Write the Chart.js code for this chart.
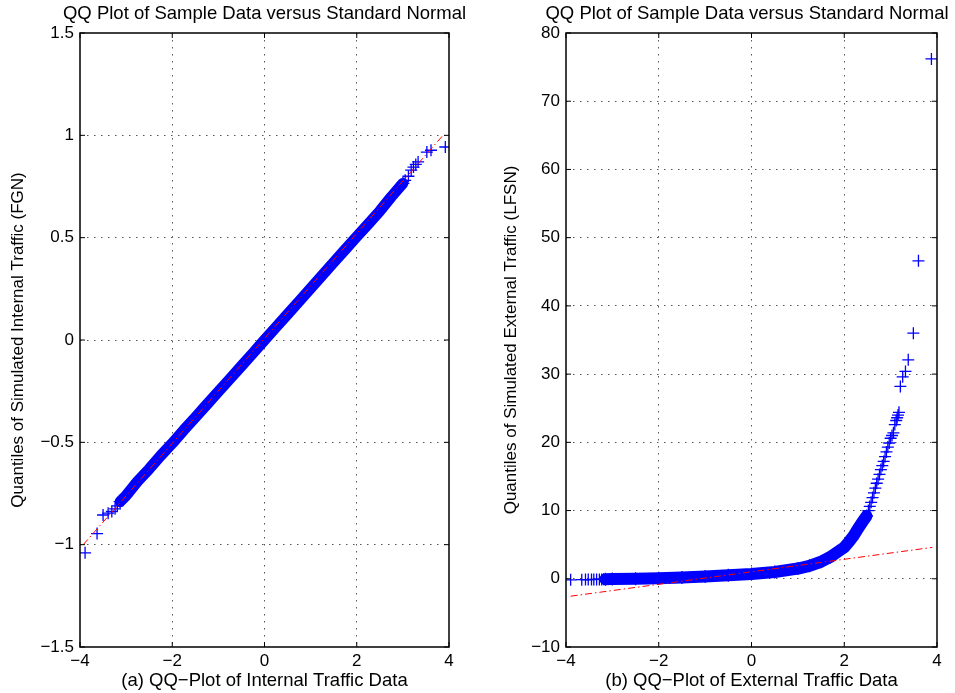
<!DOCTYPE html>
<html>
<head>
<meta charset="utf-8">
<script src="https://cdn.jsdelivr.net/npm/chart.js@4.4.1/dist/chart.umd.min.js"></script>
<style>
  html, body { margin: 0; padding: 0; background: #fff; overflow: hidden; width: 955px; height: 693px; }
  canvas { position: absolute; top: 0; }
  #left { left: 0; }
  #right { left: 480px; }
</style>
</head>
<body>
<canvas id="left" width="529" height="693"></canvas>
<canvas id="right" width="534" height="693"></canvas>
<script>
// ---- data ----
// (a) internal traffic
var internalBandX = [-3.13, -3.0, -2.75, -2.5, -2.25, -2.0, -1.75, -1.5, -1.25, -1.0, -0.75, -0.5, -0.25, 0, 0.25, 0.5, 0.75, 1.0, 1.25, 1.5, 1.75, 2.0, 2.25, 2.5, 2.75, 3.0];
var internalBandY = [-0.79, -0.76, -0.69, -0.63, -0.565, -0.505, -0.44, -0.378, -0.315, -0.252, -0.19, -0.127, -0.064, 0.0, 0.063, 0.126, 0.189, 0.252, 0.316, 0.379, 0.442, 0.505, 0.567, 0.63, 0.7, 0.765];
var internalTailX = [-3.89, -3.63, -3.50, -3.39, -3.31, -3.24, -3.19, 3.05, 3.12, 3.18, 3.23, 3.28, 3.33, 3.52, 3.61, 3.92];
var internalTailY = [-1.04, -0.946, -0.855, -0.846, -0.838, -0.825, -0.81, 0.78, 0.80, 0.83, 0.845, 0.858, 0.87, 0.918, 0.927, 0.943];
var internalRefX = [-3.93, 3.87];
var internalRefY = [-1.0, 1.0];

// (b) external traffic
var externalBandX = [-3.15, -3.0, -2.5, -2.0, -1.5, -1.0, -0.5, 0, 0.5, 1.0, 1.25, 1.5, 1.7, 1.85, 2.0, 2.1, 2.2, 2.3, 2.4, 2.48];
var externalBandY = [-0.07, -0.05, 0.0, 0.08, 0.2, 0.35, 0.5, 0.7, 1.0, 1.5, 1.9, 2.5, 3.2, 3.9, 4.6, 5.4, 6.3, 7.4, 8.4, 9.2];
var externalTailX = [-3.9, -3.66, -3.58, -3.52, -3.45, -3.40, -3.34, -3.28, -3.23, -3.19,
  2.52, 2.55, 2.58, 2.61, 2.64, 2.67, 2.70, 2.73, 2.76, 2.79, 2.82, 2.85, 2.88,
  2.91, 2.94, 2.97, 3.00, 3.03, 3.06, 3.09, 3.12, 3.14, 3.16, 3.18, 3.21, 3.26, 3.32, 3.38, 3.49, 3.60, 3.88];
var externalTailY = [-0.15, -0.13, -0.12, -0.12, -0.11, -0.1, -0.1, -0.09, -0.09, -0.08,
  10.0, 10.6, 11.2, 11.9, 12.6, 13.3, 14.0, 14.6, 15.3, 16.0, 16.6, 17.2, 17.9,
  18.6, 19.3, 19.9, 20.6, 21.0, 21.4, 22.6, 23.2, 23.6, 24.0, 24.4, 28.2, 29.6, 30.4, 32.1, 36.0, 46.6, 76.2];
var externalRefX = [-3.9, 3.9];
var externalRefY = [-2.55, 4.6];

// ticks
var xTicks = [-4, -2, 0, 2, 4];
var xTickLabels = ['\u22124', '\u22122', '0', '2', '4'];
var internalYTicks = [-1.5, -1, -0.5, 0, 0.5, 1, 1.5];
var internalYTickLabels = ['\u22121.5', '\u22121', '\u22120.5', '0', '0.5', '1', '1.5'];
var externalYTicks = [-10, 0, 10, 20, 30, 40, 50, 60, 70, 80];
var externalYTickLabels = ['\u221210', '0', '10', '20', '30', '40', '50', '60', '70', '80'];

var BLUE = '#0000ff';
var FONT = 'Liberation Sans, Arial, Helvetica, sans-serif';

function toPoints(xs, ys) {
  return xs.map(function (x, i) { return { x: x, y: ys[i] }; });
}

// box and inward tick marks like matlab
var framePlugin = {
  id: 'frame',
  afterDatasetsDraw: function (chart) {
    var ctx = chart.ctx, a = chart.chartArea;
    var sx = chart.scales.x, sy = chart.scales.y;
    ctx.save();
    ctx.strokeStyle = '#000';
    ctx.lineWidth = 1;
    ctx.beginPath();
    sx.ticks.forEach(function (t) {
      var px = sx.getPixelForValue(t.value);
      ctx.moveTo(px, a.bottom); ctx.lineTo(px, a.bottom - 5);
      ctx.moveTo(px, a.top); ctx.lineTo(px, a.top + 5);
    });
    sy.ticks.forEach(function (t) {
      var py = sy.getPixelForValue(t.value);
      ctx.moveTo(a.left, py); ctx.lineTo(a.left + 5, py);
      ctx.moveTo(a.right, py); ctx.lineTo(a.right - 5, py);
    });
    ctx.stroke();
    ctx.lineWidth = 1.5;
    ctx.strokeRect(a.left, a.top, a.right - a.left, a.bottom - a.top);
    ctx.restore();
  }
};

function makeChart(id, opt) {
  var gridColor = function (c) {
    var s = c.scale;
    if (c.tick && (c.tick.value === s.min || c.tick.value === s.max)) return 'rgba(0,0,0,0)';
    return '#555';
  };
  return new Chart(document.getElementById(id), {
    type: 'scatter',
    data: {
      datasets: [
        { // reference line (drawn on top)
          data: toPoints(opt.refX, opt.refY), showLine: true, borderColor: '#ff0000',
          borderWidth: 1, borderDash: [7, 3, 1.5, 3], pointRadius: 0
        },
        {
          data: toPoints(opt.tailX, opt.tailY), pointStyle: 'cross', pointRadius: 6,
          pointBorderWidth: 1.3, borderColor: BLUE, backgroundColor: BLUE
        },
        {
          data: toPoints(opt.bandX, opt.bandY), showLine: true, borderColor: BLUE,
          borderWidth: opt.bandWidth, borderCapStyle: 'round', borderJoinStyle: 'round',
          pointStyle: 'cross', pointRadius: 6.5, pointBorderWidth: 1.3, backgroundColor: BLUE
        }
      ]
    },
    options: {
      responsive: false,
      animation: false,
      layout: { padding: 0 },
      plugins: {
        legend: { display: false },
        tooltip: { enabled: false },
        title: {
          // canvas is sized so its middle sits over the plot
          display: true, text: 'QQ Plot of Sample Data versus Standard Normal',
          color: '#000', font: { family: FONT, size: 18.5, weight: 'normal' },
          padding: { top: 3, bottom: 7.8 }
        }
      },
      scales: {
        x: {
          type: 'linear', min: -4, max: 4,
          afterFit: function (s) { s.height = 46; },
          afterBuildTicks: function (s) { s.ticks = xTicks.map(function (v) { return { value: v }; }); },
          ticks: {
            color: '#000', font: { family: FONT, size: 17 }, padding: 4, maxRotation: 0,
            callback: function (v) { return xTickLabels[xTicks.indexOf(v)]; }
          },
          grid: { color: gridColor, lineWidth: 1, drawTicks: false },
          border: { display: false, dash: [1.5, 5.5] },
          title: {
            display: true, text: opt.xTitle, color: '#000',
            font: { family: FONT, size: 18.5 }, padding: { top: 0, bottom: 1 }
          }
        },
        y: {
          type: 'linear', min: opt.yTicks[0], max: opt.yTicks[opt.yTicks.length - 1],
          afterFit: function (s) { s.width = opt.yWidth; },
          afterBuildTicks: function (s) { s.ticks = opt.yTicks.map(function (v) { return { value: v }; }); },
          ticks: {
            color: '#000', font: { family: FONT, size: 17 }, padding: 6,
            callback: function (v) { return opt.yLabels[opt.yTicks.indexOf(v)]; }
          },
          grid: { color: gridColor, lineWidth: 1, drawTicks: false },
          border: { display: false, dash: [1.5, 5.5] },
          title: {
            display: true, text: opt.yTitle, color: '#000',
            font: { family: FONT, size: 17 }, padding: { top: opt.yTitlePad, bottom: 0 }
          }
        },
        // empty axis on the right, only keeps space so the title is centred over the plot
        spacer: {
          type: 'linear', position: 'right', min: 0, max: 1,
          afterFit: function (s) { s.width = opt.spaceRight; },
          ticks: { display: false },
          grid: { display: false, drawTicks: false },
          border: { display: false }
        }
      }
    },
    plugins: [framePlugin]
  });
}

makeChart('left', {
  bandX: internalBandX, bandY: internalBandY, bandWidth: 11,
  tailX: internalTailX, tailY: internalTailY,
  refX: internalRefX, refY: internalRefY,
  yTicks: internalYTicks, yLabels: internalYTickLabels,
  yWidth: 80, spaceRight: 80, yTitlePad: 8,
  xTitle: '(a) QQ\u2212Plot of Internal Traffic Data',
  yTitle: 'Quantiles of Simulated Internal Traffic (FGN)'
});

makeChart('right', {
  bandX: externalBandX, bandY: externalBandY, bandWidth: 12,
  tailX: externalTailX, tailY: externalTailY,
  refX: externalRefX, refY: externalRefY,
  yTicks: externalYTicks, yLabels: externalYTickLabels,
  yWidth: 86, spaceRight: 77, yTitlePad: 21,
  xTitle: '(b) QQ\u2212Plot of External Traffic Data',
  yTitle: 'Quantiles of Simulated External Traffic (LFSN)'
});
</script>
</body>
</html>
